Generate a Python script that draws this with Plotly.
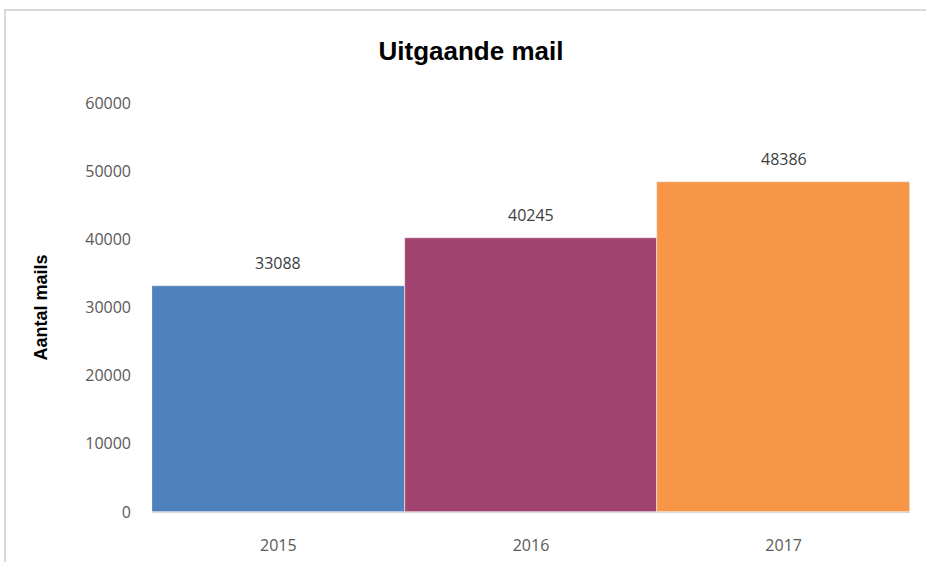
import plotly.graph_objects as go

years = ["2015", "2016", "2017"]
mails = [33088, 40245, 48386]
colors = ["#4F81BD", "#A0446F", "#F79646"]
y_ticks = [0, 10000, 20000, 30000, 40000, 50000, 60000]

W, H = 926, 562
L, R, T, B = 152, 16, 103, 50
pw, ph = W - L - R, H - T - B

fig = go.Figure(go.Bar(
    x=years, y=mails, marker=dict(color=colors, line=dict(color="#F2F2F2", width=0.6)),
    hoverinfo="x+y",
))

for i, v in enumerate(mails):
    fig.add_annotation(x=i, y=v, text=str(v), showarrow=False, yanchor="bottom", yshift=10,
                       font=dict(family="Open Sans, Liberation Sans, sans-serif", size=16, color="#404040"))

fig.add_annotation(xref="paper", yref="paper", x=(40 - L) / pw, y=0.5, text="<b>Aantal mails</b>",
                   textangle=-90, showarrow=False, xanchor="center", yanchor="middle",
                   font=dict(family="Liberation Sans, Arial, sans-serif", size=18, color="#000000"))

fig.add_shape(type="rect", xref="paper", yref="paper",
              x0=(5 - L) / pw, x1=(W + 20 - L) / pw, y0=-(B + 20) / ph, y1=(H - B - 10) / ph,
              line=dict(color="#D9D9D9", width=2), fillcolor="rgba(0,0,0,0)", layer="below")

fig.update_layout(
    width=W, height=H,
    margin=dict(l=L, r=R, t=T, b=B),
    paper_bgcolor="white", plot_bgcolor="white",
    bargap=0,
    showlegend=False,
    title=dict(text="<b>Uitgaande mail</b>", x=(471) / W, xanchor="center", y=1 - 51 / H, yanchor="middle",
               font=dict(family="Liberation Sans, Arial, sans-serif", size=26, color="#000000")),
    xaxis=dict(type="category", range=[-0.5, 2.5], showgrid=False, showline=True, linecolor="#D9D9D9",
               linewidth=1, ticks="", automargin=False,
               tickfont=dict(family="Open Sans, Liberation Sans, sans-serif", size=16, color="#595959"),
               ticklabelstandoff=19, fixedrange=True),
    yaxis=dict(range=[0, 60000], tickvals=y_ticks, ticktext=[str(t) for t in y_ticks],
               showgrid=False, zeroline=False, showline=False, ticks="", automargin=False,
               tickfont=dict(family="Open Sans, Liberation Sans, sans-serif", size=16, color="#595959"),
               ticklabelstandoff=20, fixedrange=True),
)

fig.write_html("out.html", config={"displayModeBar": False},
               post_script="document.body.style.margin='0';")
